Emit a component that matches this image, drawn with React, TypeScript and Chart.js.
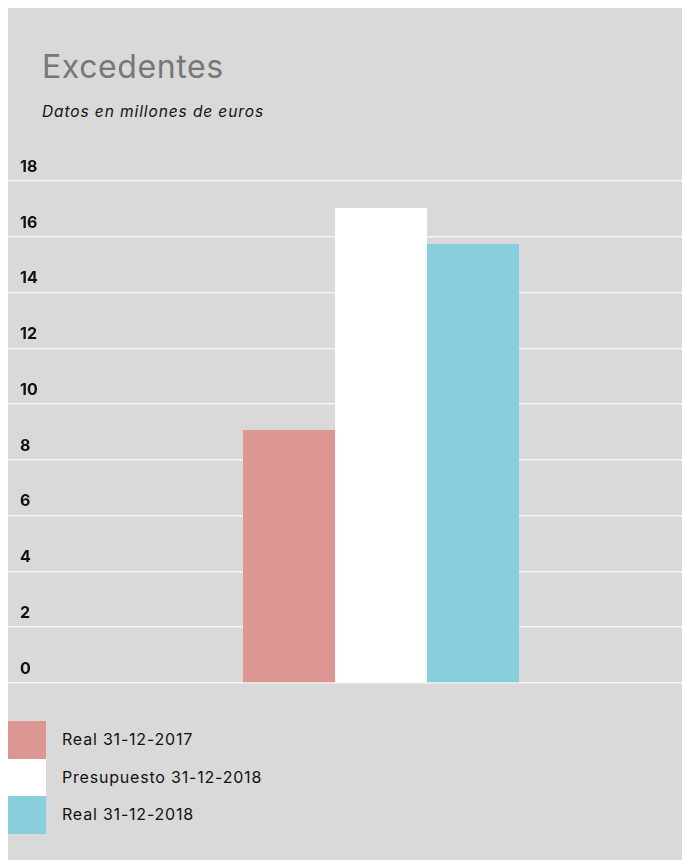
import React, { useEffect, useRef } from "react";
import { Chart, registerables } from "chart.js";

Chart.register(...registerables);

const categories = [""];
const seriesLabels = ["Real 31-12-2017", "Presupuesto 31-12-2018", "Real 31-12-2018"];
const seriesValues = [[9.07], [17.03], [15.74]];
const seriesColors = ["#dc9793", "#ffffff", "#88cedc"];
const yMin = 0;
const yMax = 18;
const yStep = 2;

const FONT = "Inter, 'Open Sans', sans-serif";

export default function App() {
  const ref = useRef<HTMLCanvasElement | null>(null);

  useEffect(() => {
    if (!ref.current) return;
    const chart = new Chart(ref.current, {
      type: "bar",
      data: {
        labels: categories,
        datasets: seriesLabels.map((label, i) => ({
          label,
          data: seriesValues[i],
          backgroundColor: seriesColors[i],
          borderWidth: 0,
          categoryPercentage: 276 / 602,
          barPercentage: 1,
        })),
      },
      options: {
        animation: false,
        responsive: false,
        maintainAspectRatio: false,
        layout: { padding: { left: 12, top: 31, right: 0, bottom: 12 } },
        plugins: { legend: { display: false }, tooltip: { enabled: false }, title: { display: false } },
        scales: {
          x: { display: false },
          y: {
            min: yMin,
            max: yMax,
            afterFit: (scale: any) => {
              scale.width = 60;
            },
            border: { display: false },
            grid: {
              color: "rgba(255,255,255,0.75)",
              lineWidth: 1.5,
              drawTicks: true,
              tickLength: 72,
              tickColor: "rgba(255,255,255,0.75)",
              tickWidth: 1.5,
            },
            ticks: {
              stepSize: yStep,
              crossAlign: "far",
              labelOffset: -14,
              padding: 0,
              color: "#111",
              font: { family: FONT, size: 16, weight: "bold" },
            },
          },
        },
      },
    } as any);
    return () => chart.destroy();
  }, []);

  return (
    <>
      <style>{`body{margin:0;}`}</style>
      <div
        style={{
          position: "absolute",
          left: 8,
          top: 8,
          width: 674,
          height: 852,
          background: "#d9d9d9",
          fontFamily: FONT,
          overflow: "hidden",
        }}
      >
        <div
          style={{
            position: "absolute",
            left: 34,
            top: 43,
            fontSize: 32,
            lineHeight: "32px",
            letterSpacing: 0.6,
            color: "#777777",
            fontWeight: 400,
            whiteSpace: "nowrap",
          }}
        >
          Excedentes
        </div>
        <div
          style={{
            position: "absolute",
            left: 34,
            top: 96,
            fontSize: 15.5,
            lineHeight: "15px",
            letterSpacing: 0.9,
            fontStyle: "italic",
            color: "#111",
            whiteSpace: "nowrap",
          }}
        >
          Datos en millones de euros
        </div>
        <canvas
          ref={ref}
          width={674}
          height={545}
          style={{ position: "absolute", left: 0, top: 142, width: 674, height: 545 }}
        />
        {seriesLabels.map((label, i) => (
          <div
            key={label}
            style={{ position: "absolute", left: 0, top: 713 + i * 37.5, height: 38, width: 400 }}
          >
            <div
              style={{
                position: "absolute",
                left: 0,
                top: 0,
                width: 38,
                height: 38,
                background: seriesColors[i],
              }}
            />
            <div
              style={{
                position: "absolute",
                left: 54,
                top: -1,
                height: 38,
                lineHeight: "38px",
                fontSize: 16,
                letterSpacing: 0.8,
                color: "#111",
                whiteSpace: "nowrap",
              }}
            >
              {label}
            </div>
          </div>
        ))}
      </div>
    </>
  );
}
